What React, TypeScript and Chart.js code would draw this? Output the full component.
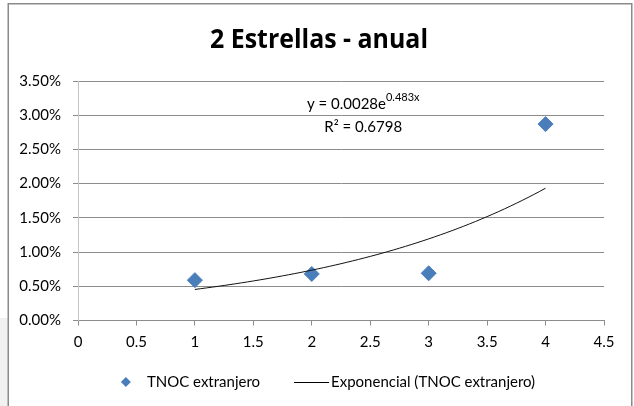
import React, { useEffect, useRef } from "react";
import { Chart, registerables } from "chart.js";

Chart.register(...registerables);

// ---- data ----
const TITLE = "2 Estrellas - anual";
const SERIES_NAME = "TNOC extranjero";
const TREND_NAME = "Exponencial (TNOC extranjero)";
const X_VALUES = [1, 2, 3, 4];
const Y_VALUES = [0.0059, 0.0068, 0.0069, 0.0287];
// exponential trendline y = a * e^(b x), as printed on the chart
const TREND_A = 0.0028;
const TREND_B = 0.483;
const R_SQUARED = 0.6798;
const X_MIN = 0;
const X_MAX = 4.5;
const X_STEP = 0.5;
const Y_MIN = 0;
const Y_MAX = 0.035;
const Y_STEP = 0.005;

// ---- styling ----
const FONT = "Lato, 'Open Sans', sans-serif";
const TITLE_FONT = "'Open Sans', 'DejaVu Sans Condensed', sans-serif";
const BLUE = "#4A7EBB";
const GRID = "#8c8c8c";

const trendPoints = (() => {
  const pts: { x: number; y: number }[] = [];
  const x0 = X_VALUES[0];
  const x1 = X_VALUES[X_VALUES.length - 1];
  const n = 60;
  for (let i = 0; i <= n; i++) {
    const x = x0 + ((x1 - x0) * i) / n;
    pts.push({ x, y: TREND_A * Math.exp(TREND_B * x) });
  }
  return pts;
})();

const decorPlugin = {
  id: "decor",
  beforeDraw(chart: any) {
    const { ctx, width, height } = chart;
    ctx.save();
    ctx.fillStyle = "#ffffff";
    ctx.fillRect(0, 0, width, height);
    ctx.fillStyle = "#f1f1f1";
    ctx.fillRect(0, 318, 8, height - 318);
    ctx.strokeStyle = "#8a8a8a";
    ctx.lineWidth = 1.5;
    ctx.strokeRect(8.25, 3.75, 623.5, height + 10);
    ctx.restore();
  },
  afterDraw(chart: any) {
    const { ctx } = chart;
    const xs = chart.scales.x;
    const ys = chart.scales.y;
    ctx.save();

    // title, set in a narrow bold face
    ctx.fillStyle = "#000";
    ctx.font = `700 27px ${TITLE_FONT}`;
    ctx.textAlign = "center";
    ctx.textBaseline = "middle";
    const tw = ctx.measureText(TITLE).width;
    const squeeze = Math.min(1, 218 / tw);
    ctx.save();
    ctx.translate(319, 40);
    ctx.scale(squeeze, 1);
    ctx.fillText(TITLE, 0, 0);
    ctx.restore();

    // trendline equation
    const cx = xs.getPixelForValue(2.44);
    const eqMain = `y = ${TREND_A}e`;
    const eqSup = `${TREND_B}x`;
    ctx.font = `15px ${FONT}`;
    const wMain = ctx.measureText(eqMain).width;
    ctx.font = `11px ${FONT}`;
    const wSup = ctx.measureText(eqSup).width;
    const left = cx - (wMain + wSup) / 2;
    const y1 = ys.getPixelForValue(0.03165);
    ctx.textAlign = "left";
    ctx.font = `15px ${FONT}`;
    ctx.fillText(eqMain, left, y1);
    ctx.font = `11px ${FONT}`;
    ctx.fillText(eqSup, left + wMain, y1 - 6);
    ctx.font = `15px ${FONT}`;
    ctx.textAlign = "center";
    ctx.fillText(`R² = ${R_SQUARED}`, cx, ys.getPixelForValue(0.0283));

    // legend
    const ly = 382;
    ctx.font = `15px ${FONT}`;
    const w1 = ctx.measureText(SERIES_NAME).width;
    const w2 = ctx.measureText(TREND_NAME).width;
    const total = 10 + 16 + w1 + 34 + 35 + 2 + w2;
    let x = 328 - total / 2;
    ctx.fillStyle = BLUE;
    ctx.beginPath();
    ctx.moveTo(x, ly);
    ctx.lineTo(x + 5, ly - 5);
    ctx.lineTo(x + 10, ly);
    ctx.lineTo(x + 5, ly + 5);
    ctx.closePath();
    ctx.fill();
    x += 26;
    ctx.fillStyle = "#000";
    ctx.textAlign = "left";
    ctx.fillText(SERIES_NAME, x, ly);
    x += w1 + 34;
    ctx.strokeStyle = "#000";
    ctx.lineWidth = 1;
    ctx.beginPath();
    ctx.moveTo(x, ly + 0.5);
    ctx.lineTo(x + 35, ly + 0.5);
    ctx.stroke();
    x += 37;
    ctx.fillText(TREND_NAME, x, ly);

    ctx.restore();
  },
};

export default function App() {
  const ref = useRef<HTMLCanvasElement>(null);

  useEffect(() => {
    if (!ref.current) return;
    const chart = new Chart(ref.current, {
      type: "scatter",
      data: {
        datasets: [
          {
            label: TREND_NAME,
            data: trendPoints,
            showLine: true,
            borderColor: "#111",
            borderWidth: 1,
            pointRadius: 0,
            fill: false,
          },
          {
            label: SERIES_NAME,
            data: X_VALUES.map((x, i) => ({ x, y: Y_VALUES[i] })),
            pointStyle: "rectRot",
            pointRadius: 7.5,
            backgroundColor: BLUE,
            borderColor: BLUE,
            borderWidth: 1,
          },
        ],
      },
      options: {
        responsive: false,
        animation: false,
        events: [],
        layout: { padding: { left: 8, right: 30, top: 81, bottom: 45 } },
        plugins: {
          legend: { display: false },
          title: { display: false },
          tooltip: { enabled: false },
        },
        scales: {
          x: {
            type: "linear",
            min: X_MIN,
            max: X_MAX,
            ticks: {
              stepSize: X_STEP,
              color: "#000",
              font: { family: FONT, size: 15 },
              padding: 8,
              maxRotation: 0,
              callback: (v: any) => String(Number(v)),
            },
            grid: { drawOnChartArea: false, drawTicks: true, tickLength: 5, color: GRID },
            border: { color: GRID },
            afterFit: (s: any) => {
              s.height = 40.5;
            },
          },
          y: {
            min: Y_MIN,
            max: Y_MAX,
            ticks: {
              stepSize: Y_STEP,
              color: "#000",
              font: { family: FONT, size: 15 },
              padding: 12,
              callback: (v: any) => (Number(v) * 100).toFixed(2) + "%",
            },
            grid: { color: GRID, tickLength: 5 },
            border: { color: "#c4c4c4" },
            afterFit: (s: any) => {
              s.width = 70;
            },
          },
        },
      },
      plugins: [decorPlugin],
    });
    return () => chart.destroy();
  }, []);

  return (
    <div style={{ position: "absolute", left: 0, top: 0, width: 634, height: 406 }}>
      <canvas ref={ref} width={634} height={406} style={{ display: "block" }} />
    </div>
  );
}
